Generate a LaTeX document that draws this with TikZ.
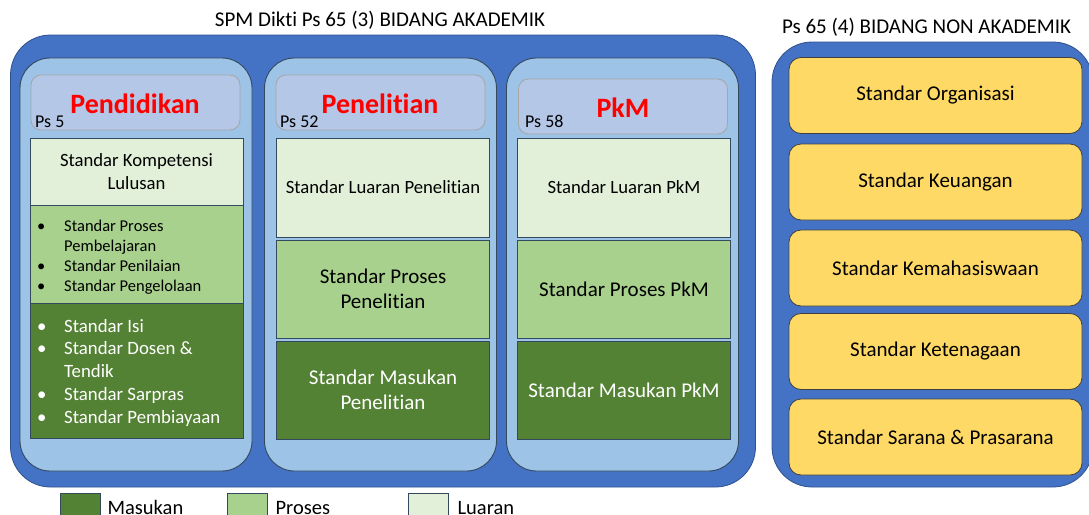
\documentclass[tikz,border=0pt]{standalone}
\usepackage{fontspec}
\setmainfont{Carlito}[RawFeature={-liga;-clig;-calt}]
\usetikzlibrary{positioning}

\definecolor{biru}{HTML}{4472C4}
\definecolor{birutua}{HTML}{2F528F}
\definecolor{birumuda}{HTML}{9DC3E6}
\definecolor{lavender}{HTML}{B4C7E7}
\definecolor{hijaumuda}{HTML}{E2F0D9}
\definecolor{hijau}{HTML}{A9D18E}
\definecolor{hijautua}{HTML}{548235}
\definecolor{kuning}{HTML}{FFD966}
\definecolor{garis}{HTML}{34495E}
\definecolor{abu}{HTML}{A6A6A6}

\tikzstyle{every node}+=[inner sep=0pt]
\tikzstyle{judul}=[font=\fontsize{21}{25}\selectfont]
\tikzstyle{bidang}=[draw=birutua,fill=biru,rounded corners=40pt,line width=0.8pt]
\tikzstyle{kolom}=[draw=garis,fill=birumuda,rounded corners=30pt,line width=0.9pt,minimum width=232pt,minimum height=413pt]
\tikzstyle{kepala}=[draw=abu,fill=lavender,rounded corners=10pt,line width=0.8pt,minimum width=209pt,minimum height=55pt]
\tikzstyle{nama}=[text=red,font=\fontsize{28}{32}\selectfont\bfseries,anchor=base]
\tikzstyle{ps}=[font=\fontsize{18}{22}\selectfont,anchor=base west]
\tikzstyle{kotak}=[draw=garis,line width=0.8pt,minimum width=213pt,align=center]
\tikzstyle{luaran}=[kotak,fill=hijaumuda,font=\fontsize{18.7}{22.5}\selectfont]
\tikzstyle{proses}=[kotak,fill=hijau,font=\fontsize{21}{25.5}\selectfont]
\tikzstyle{masukan}=[kotak,fill=hijautua,text=white,font=\fontsize{21}{25.5}\selectfont]
\tikzstyle{standar}=[draw=black!75,fill=kuning,rounded corners=12pt,line width=0.8pt,minimum width=293pt,minimum height=76pt,font=\fontsize{21}{25}\selectfont]
\tikzstyle{leg}=[draw=garis,line width=0.8pt,minimum width=40pt,minimum height=22pt]
\tikzstyle{legteks}=[font=\fontsize{20.5}{24}\selectfont,anchor=base west,yshift=-3.5pt]

\newcommand{\drawstandar}[1]{
	\foreach \n/\y/\t in {#1}{
		\node[standar] (\n) at (935.5,\y) {Standar \t};
	}
}

\begin{document}
\begin{tikzpicture}[x=1pt,y=-1pt]
\useasboundingbox (0,0) rectangle (1089,514);

% bidang akademik
\node[judul,anchor=base] (jakad) at (380,27) {SPM Dikti Ps 65 (3) BIDANG AKADEMIK};
\node[bidang,minimum width=745pt,minimum height=452pt] (akad) at (383,261) {};

\node[kolom] (k1) at (136,264.5) {};
\node[kolom] (k2) at (380.5,264.5) {};
\node[kolom] (k3) at (622.5,264.5) {};

\node[kepala] (h1) at (135.5,102.5) {};
\node[kepala] (h2) at (380.5,102.5) {};
\node[kepala] (h3) at (623,106.5) {};
\node[nama] (n1) at (135,113) {Pendidikan};
\node[nama] (n2) at (380,113) {Penelitian};
\node[nama] (n3) at (623,117) {PkM};
\node[ps] (p1) at (35,127) {Ps 5};
\node[ps] (p2) at (280,127) {Ps 52};
\node[ps] (p3) at (525,127) {Ps 58};

% pendidikan
\node[luaran,minimum height=67pt] (l1) at (136.5,171.5) {Standar Kompetensi\\Lulusan};
\node[proses,minimum height=98pt] (r1) at (136.5,254) {};
\node[masukan,minimum height=135pt] (m1) at (136.5,370.5) {};
\node[font=\fontsize{16.5}{20}\selectfont,anchor=base west] (dr1) at (37,231)
	{\begin{tabular}[t]{@{}p{27pt}@{}l@{}}
	\textbullet & Standar Proses\\
	 & Pembelajaran\\
	\textbullet & Standar Penilaian\\
	\textbullet & Standar Pengelolaan
	\end{tabular}};
\node[text=white,font=\fontsize{18.8}{22.75}\selectfont,anchor=base west] (dm1) at (37,332)
	{\begin{tabular}[t]{@{}p{27pt}@{}l@{}}
	\textbullet & Standar Isi\\
	\textbullet & Standar Dosen \&\\
	 & Tendik\\
	\textbullet & Standar Sarpras\\
	\textbullet & Standar Pembiayaan
	\end{tabular}};

% penelitian
\node[luaran,minimum height=99pt] (l2) at (383,187.5) {Standar Luaran Penelitian};
\node[proses,minimum height=98pt] (r2) at (383,289) {Standar Proses\\Penelitian};
\node[masukan,minimum height=98pt] (m2) at (383,390) {Standar Masukan\\Penelitian};

% pkm
\node[luaran,minimum height=99pt] (l3) at (624,187.5) {Standar Luaran PkM};
\node[proses,minimum height=98pt] (r3) at (624,289) {Standar Proses PkM};
\node[masukan,minimum height=98pt] (m3) at (624,390) {Standar Masukan PkM};

% bidang non akademik
\node[judul,anchor=base] (jnon) at (926.5,33) {Ps 65 (4) BIDANG NON AKADEMIK};
\node[bidang,minimum width=321pt,minimum height=445pt] (non) at (932.5,264.5) {};
\drawstandar{org/95.5/Organisasi,keu/182/Keuangan,mhs/268/Kemahasiswaan,ten/351.5/Ketenagaan,sar/437/Sarana \& Prasarana}

% legenda
\node[leg,fill=hijautua] (lm) at (80,504) {};
\node[leg,fill=hijau] (lp) at (247,504) {};
\node[leg,fill=hijaumuda] (ll) at (428,504) {};
\node[legteks,right=7pt of lm] (tm) {Masukan};
\node[legteks,right=8pt of lp] (tp) {Proses};
\node[legteks,right=9pt of ll] (tl) {Luaran};

\end{tikzpicture}
\end{document}
